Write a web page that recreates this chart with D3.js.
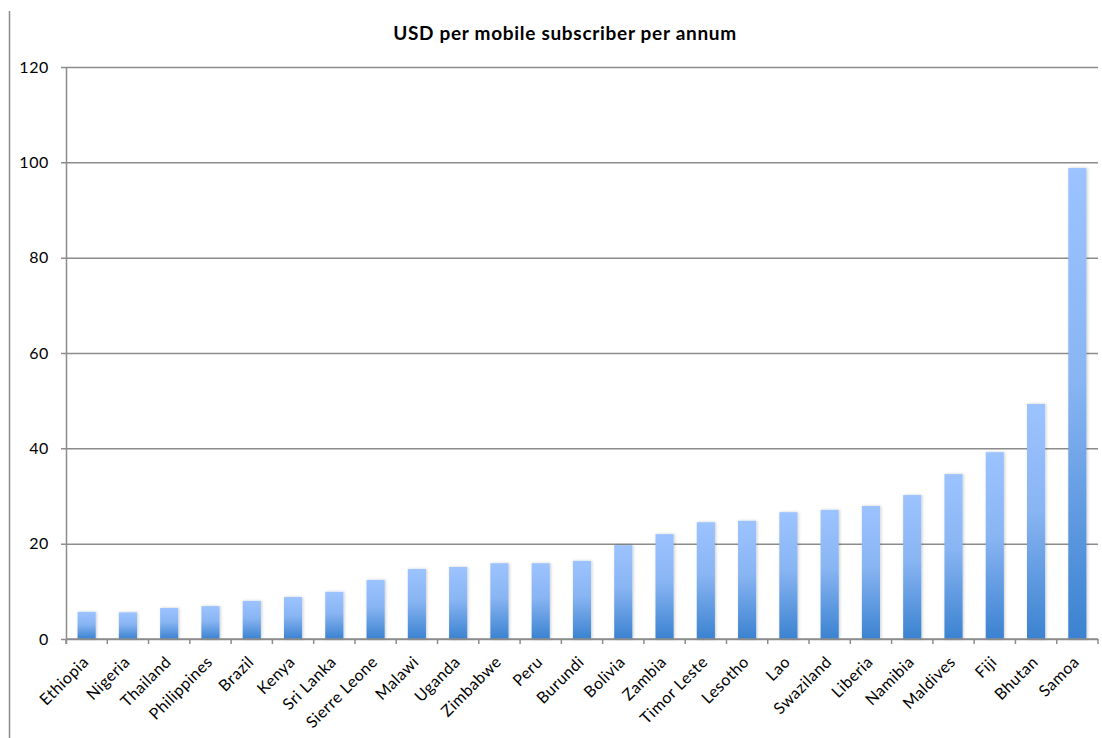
<!DOCTYPE html>
<html>
<head>
<meta charset="utf-8">
<script src="https://cdn.jsdelivr.net/npm/d3@7"></script>
<style>
  body { margin: 0; background: #fff; }
  svg { display: block; font-family: Lato, "Open Sans", sans-serif; }
</style>
</head>
<body>
<svg id="chart" width="1102" height="738"></svg>
<script>
// Chart data
const countries = ["Ethiopia", "Nigeria", "Thailand", "Philippines", "Brazil", "Kenya", "Sri Lanka",
    "Sierre Leone", "Malawi", "Uganda", "Zimbabwe", "Peru", "Burundi", "Bolivia", "Zambia",
    "Timor Leste", "Lesotho", "Lao", "Swaziland", "Liberia", "Namibia", "Maldives", "Fiji",
    "Bhutan", "Samoa"];
const usdPerSubscriber = [5.7, 5.6, 6.5, 6.9, 8.0, 8.8, 9.9, 12.4, 14.7, 15.1, 15.9, 15.9, 16.4,
    19.7, 22.0, 24.5, 24.8, 26.6, 27.1, 27.9, 30.2, 34.6, 39.2, 49.3, 98.8];
const yTicks = [0, 20, 40, 60, 80, 100, 120];
const title = "USD per mobile subscriber per annum";

const svg = d3.select("#chart");
const margin = { left: 66, right: 1098, top: 67, bottom: 639 };

const x = d3.scaleBand().domain(countries).range([margin.left, margin.right]).paddingInner(0.56).paddingOuter(0.28);
const y = d3.scaleLinear().domain([0, 120]).range([margin.bottom, margin.top]);

// Gradient + soft shadow for bars
const defs = svg.append("defs");
const grad = defs.append("linearGradient").attr("id", "barGrad").attr("x1", 0).attr("y1", 0).attr("x2", 0).attr("y2", 1);
grad.append("stop").attr("offset", "0%").attr("stop-color", "#9cc3ff");
grad.append("stop").attr("offset", "45%").attr("stop-color", "#89b5f3");
grad.append("stop").attr("offset", "100%").attr("stop-color", "#3b82d0");
const shadow = defs.append("filter").attr("id", "shadow").attr("x", "-30%").attr("y", "-5%").attr("width", "160%").attr("height", "110%");
shadow.append("feDropShadow").attr("dx", 1).attr("dy", 0).attr("stdDeviation", 1.5).attr("flood-color", "#000").attr("flood-opacity", 0.2);

// Outer left border
svg.append("line").attr("x1", 9.5).attr("x2", 9.5).attr("y1", 11).attr("y2", 738)
    .attr("stroke", "#8c8c8c").attr("stroke-width", 1.5);

// Title
svg.append("text").attr("x", 565).attr("y", 40).attr("text-anchor", "middle")
    .attr("font-size", 19).attr("font-weight", "bold").attr("letter-spacing", 0.7)
    .attr("fill", "#000").text(title);

// Gridlines and y axis
const yAxis = d3.axisLeft(y).tickValues(yTicks).tickSize(-(margin.right - margin.left)).tickPadding(17).tickFormat(d3.format("d"));
const gy = svg.append("g").attr("transform", `translate(${margin.left},0)`).call(yAxis);
gy.select(".domain").remove();
gy.selectAll(".tick line").attr("stroke", "#8c8c8c").attr("stroke-width", 1.5).attr("x1", -5);
gy.selectAll(".tick text").attr("font-size", 16).attr("letter-spacing", 0.6).attr("fill", "#000")
    .attr("font-family", "Lato, sans-serif");

// Bars
svg.append("g").selectAll("rect").data(countries).join("rect")
    .attr("x", d => x(d))
    .attr("y", (d, i) => y(usdPerSubscriber[i]))
    .attr("width", x.bandwidth())
    .attr("height", (d, i) => y(0) - y(usdPerSubscriber[i]))
    .attr("fill", "url(#barGrad)")
    .attr("filter", "url(#shadow)");

// Y axis line
svg.append("line").attr("x1", margin.left + 0.5).attr("x2", margin.left + 0.5).attr("y1", margin.top).attr("y2", margin.bottom + 5)
    .attr("stroke", "#8c8c8c").attr("stroke-width", 1.5);

// X axis with category ticks between bars
const gx = svg.append("g");
gx.append("line").attr("x1", margin.left).attr("x2", margin.right).attr("y1", y(0)).attr("y2", y(0))
    .attr("stroke", "#8c8c8c").attr("stroke-width", 1.5);
gx.selectAll("line.tick").data(d3.range(countries.length + 1)).join("line").attr("class", "tick")
    .attr("x1", i => margin.left + i * (margin.right - margin.left) / countries.length)
    .attr("x2", i => margin.left + i * (margin.right - margin.left) / countries.length)
    .attr("y1", y(0)).attr("y2", y(0) + 5)
    .attr("stroke", "#8c8c8c").attr("stroke-width", 1.5);
gx.selectAll("text").data(countries).join("text")
    .attr("transform", d => `translate(${x(d) + x.bandwidth() / 2 + 3},${y(0) + 24}) rotate(-45)`)
    .attr("text-anchor", "end")
    .attr("font-size", 16)
    .attr("letter-spacing", 0.5)
    .attr("fill", "#000")
    .text(d => d);
</script>
</body>
</html>
